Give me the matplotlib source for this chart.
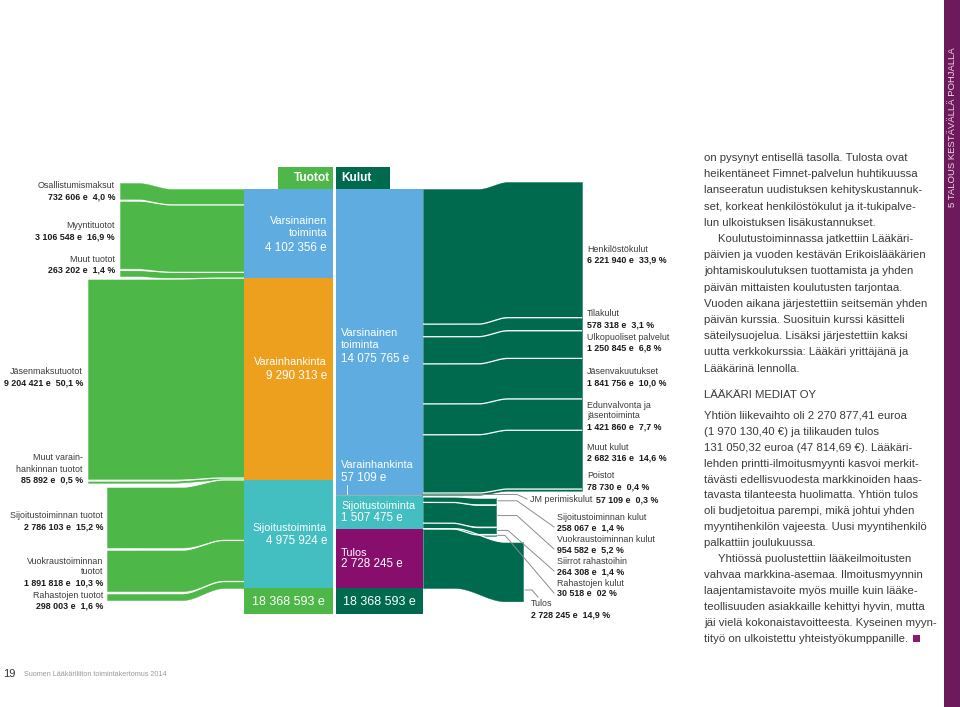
import matplotlib
matplotlib.use("Agg")
import matplotlib.pyplot as plt
import numpy as np
from matplotlib.patches import Rectangle

plt.rcParams['font.family'] = ['Liberation Sans', 'DejaVu Sans']

# ---- data -------------------------------------------------------------
total_value = 18368593

income_group_names = ["Varsinainen\ntoiminta", "Varainhankinta", "Sijoitustoiminta"]
income_group_values = [4102356, 9290313, 4975924]

expense_group_names = ["Varsinainen\ntoiminta", "Varainhankinta", "Sijoitustoiminta", "Tulos"]
expense_group_values = [14075765, 57109, 1507475, 2728245]

income_names = ["Osallistumismaksut", "Myyntituotot", "Muut tuotot", "Jäsenmaksutuotot",
                "Muut varain-\nhankinnan tuotot", "Sijoitustoiminnan tuotot",
                "Vuokraustoiminnan\ntuotot", "Rahastojen tuotot"]
income_values = [732606, 3106548, 263202, 9204421, 85892, 2786103, 1891818, 298003]
income_pct = ["4,0", "16,9", "1,4", "50,1", "0,5", "15,2", "10,3", "1,6"]
income_group = [0, 0, 0, 1, 1, 2, 2, 2]

main_cost_names = ["Henkilöstökulut", "Tilakulut", "Ulkopuoliset palvelut", "Jäsenvakuutukset",
                   "Edunvalvonta ja\njäsentoiminta", "Muut kulut", "Poistot"]
main_cost_values = [6221940, 578318, 1250845, 1841756, 1421860, 2682316, 78730]
main_cost_pct = ["33,9", "3,1", "6,8", "10,0", "7,7", "14,6", "0,4"]

jm_name = "JM perimiskulut"
jm_value = 57109
jm_pct = "0,3"

invest_cost_names = ["Sijoitustoiminnan kulut", "Vuokraustoiminnan kulut",
                     "Siirrot rahastoihin", "Rahastojen kulut"]
invest_cost_values = [258067, 954582, 264308, 30518]
invest_cost_pct = ["1,4", "5,2", "1,4", "02"]

result_name = "Tulos"
result_value = 2728245
result_pct = "14,9"

para1 = ["on pysynyt entisellä tasolla. Tulosta ovat",
         "heikentäneet Fimnet-palvelun huhtikuussa",
         "lanseeratun uudistuksen kehityskustannuk-",
         "set, korkeat henkilöstökulut ja it-tukipalve-",
         "lun ulkoistuksen lisäkustannukset.",
         "Koulutustoiminnassa jatkettiin Lääkäri-",
         "päivien ja vuoden kestävän Erikoislääkärien",
         "johtamiskoulutuksen tuottamista ja yhden",
         "päivän mittaisten koulutusten tarjontaa.",
         "Vuoden aikana järjestettiin seitsemän yhden",
         "päivän kurssia. Suosituin kurssi käsitteli",
         "säteilysuojelua. Lisäksi järjestettiin kaksi",
         "uutta verkkokurssia: Lääkäri yrittäjänä ja",
         "Lääkärinä lennolla."]
heading = "LÄÄKÄRI MEDIAT OY"
para2 = ["Yhtiön liikevaihto oli 2 270 877,41 euroa",
         "(1 970 130,40 €) ja tilikauden tulos",
         "131 050,32 euroa (47 814,69 €). Lääkäri-",
         "lehden printti-ilmoitusmyynti kasvoi merkit-",
         "tävästi edellisvuodesta markkinoiden haas-",
         "tavasta tilanteesta huolimatta. Yhtiön tulos",
         "oli budjetoitua parempi, mikä johtui yhden",
         "myyntihenkilön vajeesta. Uusi myyntihenkilö",
         "palkattiin joulukuussa.",
         "Yhtiössä puolustettiin lääkeilmoitusten",
         "vahvaa markkina-asemaa. Ilmoitusmyynnin",
         "laajentamistavoite myös muille kuin lääke-",
         "teollisuuden asiakkaille kehittyi hyvin, mutta",
         "jäi vielä kokonaistavoitteesta. Kyseinen myyn-",
         "tityö on ulkoistettu yhteistyökumppanille."]

# ---- styling / layout --------------------------------------------------
LIGHT_GREEN = '#4db848'
DARK_GREEN = '#006a4e'
BLUE = '#5fade0'
ORANGE = '#eca01e'
CYAN = '#43bfc2'
PURPLE = '#870e6c'
SIDEBAR = '#6d1a5c'
TXT = '#3a3a3a'
VAL = '#1a1a1a'
LEADER = '#8c8c8c'

COL_TOP, COL_BOTTOM = 189, 588
TU_X0, TU_X1 = 244, 333
KU_X0, KU_X1 = 336, 423
scale = (COL_BOTTOM - COL_TOP) / total_value


def money(v):
    return f"{v:,}".replace(",", " ") + " e"


def stack(values, start, gap=0.0):
    tops, y = [], start
    for v in values:
        tops.append(y)
        y += v * scale + gap
    return tops


def band(x0, x1, top0, top1, h, xa, xb, color):
    # flow ribbon with a smooth S-shaped shift between xa and xb
    x = np.linspace(x0, x1, 300)
    t = np.clip((x - xa) / (xb - xa), 0, 1)
    s = t * t * (3 - 2 * t)
    top = top0 + (top1 - top0) * s
    ax.fill_between(x, top, top + h, color=color, lw=0.3, edgecolor=color)
    return x, top


def separator(x, top):
    ax.plot(x, top, color='white', lw=0.9, solid_capstyle='butt')


fig = plt.figure(figsize=(9.6, 7.07), dpi=100)
ax = fig.add_axes([0, 0, 1, 1])
ax.set_xlim(0, 960)
ax.set_ylim(707, 0)
ax.axis('off')

# ---- income flows ------------------------------------------------------
LEFT_X = [120, 88, 107]
LEFT_TOP = [183, 279, 487]
LEFT_GAP = [2, 2, 2.5]
LEFT_TRANS = [(138, 172), (170, 222), (182, 224)]
right_tops = stack(income_values, COL_TOP)
for g in range(3):
    idx = [i for i in range(len(income_values)) if income_group[i] == g]
    lt = stack([income_values[i] for i in idx], LEFT_TOP[g], LEFT_GAP[g])
    for k, i in enumerate(idx):
        h = income_values[i] * scale
        x, top = band(LEFT_X[g], TU_X0, lt[k], right_tops[i], h, *LEFT_TRANS[g], LIGHT_GREEN)
        if i > 0:
            separator(x, top)

# ---- columns -----------------------------------------------------------
ax.bar((TU_X0 + TU_X1) / 2, np.array(income_group_values) * scale, width=TU_X1 - TU_X0,
       bottom=stack(income_group_values, COL_TOP), color=[BLUE, ORANGE, CYAN], lw=0)
ax.bar((KU_X0 + KU_X1) / 2, np.array(expense_group_values) * scale, width=KU_X1 - KU_X0,
       bottom=stack(expense_group_values, COL_TOP), color=[BLUE, '#9fb0a8', CYAN, PURPLE], lw=0)

# headers and totals
ax.add_patch(Rectangle((278, 167), TU_X1 - 278, 22, color=LIGHT_GREEN, lw=0))
ax.add_patch(Rectangle((KU_X0, 167), 54, 22, color=DARK_GREEN, lw=0))
ax.text(330, 178, "Tuotot", ha='right', va='center', color='white', fontsize=8.6, fontweight='bold')
ax.text(341, 178, "Kulut", ha='left', va='center', color='white', fontsize=8.6, fontweight='bold')
ax.add_patch(Rectangle((TU_X0, COL_BOTTOM), TU_X1 - TU_X0, 26, color=LIGHT_GREEN, lw=0))
ax.add_patch(Rectangle((KU_X0, COL_BOTTOM), KU_X1 - KU_X0, 26, color=DARK_GREEN, lw=0))
ax.text((TU_X0 + TU_X1) / 2, 602, money(total_value), ha='center', va='center',
        color='white', fontsize=9)
ax.text((KU_X0 + KU_X1) / 2, 602, money(total_value), ha='center', va='center',
        color='white', fontsize=9)

# column labels
tu_label_y = [(221, 248), (362, 376), (528, 541)]
for name, v, (yn, yv) in zip(income_group_names, income_group_values, tu_label_y):
    for j, ln in enumerate(name.split('\n')):
        ax.text(327, yn + 12 * j, ln, ha='right', va='center', color='white', fontsize=7.8)
    ax.text(327, yv, money(v), ha='right', va='center', color='white', fontsize=8.4)

ku_label_y = [(333, 359), (465, 478), (506, 518), (553, 564)]
for name, v, (yn, yv) in zip(expense_group_names, expense_group_values, ku_label_y):
    for j, ln in enumerate(name.split('\n')):
        ax.text(341, yn + 12 * j, ln, ha='left', va='center', color='white', fontsize=7.8)
    ax.text(341, yv, money(v), ha='left', va='center', color='white', fontsize=8.4)
ax.plot([347, 347], [485, 494], color='white', lw=0.6)

# ---- income labels -----------------------------------------------------
inc_label_pos = [(115, 186), (115, 226), (115, 259), (83, 372), (83, 458),
                 (103, 516), (103, 561), (103, 595)]
for name, v, p, (xr, y0) in zip(income_names, income_values, income_pct, inc_label_pos):
    lines = name.split('\n')
    for j, ln in enumerate(lines):
        ax.text(xr, y0 + 11 * j, ln, ha='right', va='center', color=TXT, fontsize=6.4)
    ax.text(xr, y0 + 11 * len(lines), f"{money(v)}  {p} %", ha='right', va='center',
            color=VAL, fontsize=6.4, fontweight='bold')

# ---- expense flows -----------------------------------------------------
left_tops = stack(main_cost_values, COL_TOP)
rtops = stack(main_cost_values, 182, 0.5)
for i, v in enumerate(main_cost_values):
    x, top = band(KU_X1, 582, left_tops[i], rtops[i], v * scale, 478, 508, DARK_GREEN)
    if i > 0:
        separator(x, top)

jm_top = COL_TOP + expense_group_values[0] * scale
band(KU_X1, 462, jm_top, jm_top, jm_value * scale, 450, 460, '#6f9d8c')
ax.plot([KU_X1, 462], [jm_top + 0.6, jm_top + 0.6], color='#6f9d8c', lw=1.6)

inv_left = stack(invest_cost_values, jm_top + jm_value * scale + 0.8)
inv_right = stack(invest_cost_values, 498, 1.6)
for i, v in enumerate(invest_cost_values):
    x, top = band(KU_X1, 496, inv_left[i], inv_right[i], max(v * scale, 1.0), 452, 478, DARK_GREEN)
    separator(x, top)

res_left = COL_TOP + (total_value - result_value) * scale
x, top = band(KU_X1, 523, res_left, 542, result_value * scale, 455, 505, DARK_GREEN)
separator(x, top)

# expense labels
main_label_y = [249, 314, 337, 372, 405, 447, 476]
for name, v, p, y0 in zip(main_cost_names, main_cost_values, main_cost_pct, main_label_y):
    lines = name.split('\n')
    for j, ln in enumerate(lines):
        ax.text(587, y0 + 11 * j, ln, ha='left', va='center', color=TXT, fontsize=6.4)
    ax.text(587, y0 + 11 * len(lines), f"{money(v)}  {p} %", ha='left', va='center',
            color=VAL, fontsize=6.4, fontweight='bold')

# JM perimiskulut
ax.plot([462, 517, 527], [494.5, 494.5, 499], color=LEADER, lw=0.7)
ax.text(530, 500, jm_name, ha='left', va='center', color=TXT, fontsize=6.4)
ax.text(596, 500, f"{money(jm_value)}  {jm_pct} %", ha='left', va='center', color=VAL,
        fontsize=6.4, fontweight='bold')

inv_label_y = [517, 539, 561, 583]
inv_bend_x = [517, 517, 508, 505]
for i, (name, v, p, y0) in enumerate(zip(invest_cost_names, invest_cost_values,
                                          invest_cost_pct, inv_label_y)):
    yc = inv_right[i] + max(v * scale, 1.0) / 2
    ax.plot([498, inv_bend_x[i], 554], [yc, yc, y0 + 10], color=LEADER, lw=0.7)
    ax.text(557, y0, name, ha='left', va='center', color=TXT, fontsize=6.4)
    ax.text(557, y0 + 11, f"{money(v)}  {p} %", ha='left', va='center', color=VAL,
            fontsize=6.4, fontweight='bold')

ax.plot([525, 532, 538], [590, 590, 597], color=LEADER, lw=0.7)
ax.text(531, 604, result_name, ha='left', va='center', color=TXT, fontsize=6.4)
ax.text(531, 615, f"{money(result_value)}  {result_pct} %", ha='left', va='center', color=VAL,
        fontsize=6.4, fontweight='bold')

# ---- body text ---------------------------------------------------------
BODY = 8.2
for j, ln in enumerate(para1):
    ax.text(718 if j == 5 else 704, 158 + 16.2 * j, ln, ha='left', va='center',
            color=TXT, fontsize=BODY)
ax.text(704, 395, heading, ha='left', va='center', color=TXT, fontsize=BODY)
last = None
for j, ln in enumerate(para2):
    last = ax.text(718 if j == 9 else 704, 416 + 15.9 * j, ln, ha='left', va='center',
                   color=TXT, fontsize=BODY)

# end-of-article square just after the last line
renderer = fig.canvas.get_renderer()
bb = last.get_window_extent(renderer)
x_end = ax.transData.inverted().transform((bb.x1, bb.y0))[0]
ax.add_patch(Rectangle((x_end + 5, 635), 7, 7, color='#8b1a6e', lw=0))

# sidebar and footer
ax.add_patch(Rectangle((944, 0), 16, 707, color=SIDEBAR, lw=0))
ax.text(952.5, 127, "5 TALOUS KESTÄVÄLLÄ POHJALLA", rotation=90, ha='center', va='center',
        color='#f3d6ea', fontsize=6.8)
ax.text(3, 674, "19", ha='left', va='center', color='#333333', fontsize=8)
ax.text(24, 674, "Suomen Lääkäriliiton toimintakertomus 2014", ha='left', va='center',
        color='#9a9a9a', fontsize=5.2)

fig.savefig("out.png", dpi=100)
